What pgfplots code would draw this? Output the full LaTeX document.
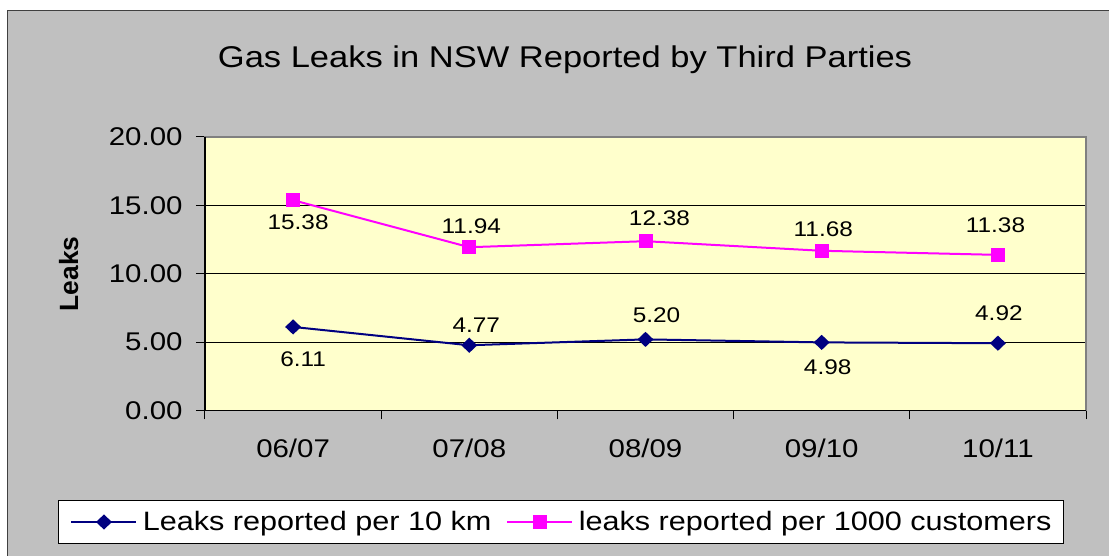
\documentclass[border=0pt]{standalone}
\usepackage{pgfplots}
\pgfplotsset{compat=1.18}
\usepackage{pgfplotstable}
\usepackage{fontspec}
\setmainfont{Liberation Sans}[FakeStretch=1.15]
\newfontfamily\ylabfont{Liberation Sans}
\definecolor{chartgray}{HTML}{C0C0C0}
\definecolor{plotyellow}{HTML}{FFFFCC}
\definecolor{navyline}{HTML}{000080}
\definecolor{magline}{HTML}{FF00FF}
\definecolor{plotborder}{HTML}{808080}

\pgfplotstableread{
x y lab dx dy
0 6.11 6.11 5 -16
1 4.77 4.77 3.5 10
2 5.20 5.20 5.5 12
3 4.98 4.98 3 -12.5
4 4.92 4.92 0.5 15
}\leaksKm
\pgfplotstableread{
x y lab dx dy
0 15.38 15.38 2.5 -11
1 11.94 11.94 1 10.35
2 12.38 12.38 7 11.35
3 11.68 11.68 0.8 10.75
4 11.38 11.38 -1.2 14.75
}\leaksCust

\begin{document}
\begin{tikzpicture}
\path[use as bounding box] (0,0) rectangle (554.5pt,278pt);
\fill[white] (0,0) rectangle (554.5pt,278pt);
\clip (0,0) rectangle (554.5pt,278pt);
\filldraw[fill=chartgray, draw=black!75, line width=0.6pt] (3.75pt,-5pt) rectangle (560pt,272.65pt);
\begin{axis}[
  at={(102.5pt,72.75pt)}, anchor=south west,
  scale only axis, width=440.5pt, height=136.75pt,
  xmin=-0.5, xmax=4.5, ymin=0, ymax=20,
  xtick={-0.5,0.5,1.5,2.5,3.5,4.5}, x tick label as interval,
  xticklabels={06/07,07/08,08/09,09/10,10/11},
  ytick={0,5,10,15,20},
  /pgf/number format/fixed, /pgf/number format/fixed zerofill,
  /pgf/number format/precision=2, /pgf/number format/assume math mode=true,
  yticklabel style={xshift=-3.2pt},
  xticklabel style={yshift=-6pt},
  tick label style={font=\fontsize{12.8}{15}\selectfont, text=black},
  tick align=outside, tick pos=left,
  major tick length=4.5pt,
  tick style={black, line width=0.5pt},
  axis line style={plotborder, line width=0.6pt},
  axis background/.style={fill=plotyellow},
  ymajorgrids, major grid style={black, line width=0.5pt},
  clip=false,
  legend style={at={(0.4041,-0.4077)}, anchor=center, legend columns=2,
    draw=black, line width=0.5pt, fill=white,
    font=\fontsize{13.3}{15}\selectfont,
    inner xsep=6pt, inner ysep=5.4pt,
    nodes={inner sep=0pt},
    /tikz/every odd column/.append style={column sep=2.7pt},
    /tikz/every even column/.append style={column sep=7.5pt}},
  legend image code/.code={\draw[mark repeat=2, mark phase=2, #1] plot coordinates {(0pt,0pt) (16.25pt,0pt) (32.5pt,0pt)};},
  legend cell align=left,
]
\addplot[navyline, line width=1pt, mark=diamond*, mark size=3.1pt,
  mark options={fill=navyline, solid, xscale=1.4},
  nodes near coords, point meta=explicit symbolic,
  visualization depends on={\thisrow{dx}\as\ldx},
  visualization depends on={\thisrow{dy}\as\ldy},
  every node near coord/.append style={anchor=center, xshift=\ldx pt, yshift=\ldy pt,
     font=\fontsize{10.6}{12}\selectfont, text=black}]
  table[x=x, y=y, meta=lab] {\leaksKm};
\addlegendentry{Leaks reported per 10 km}
\addplot[magline, line width=1pt, mark=square*, mark size=3pt,
  mark options={fill=magline, solid},
  nodes near coords, point meta=explicit symbolic,
  visualization depends on={\thisrow{dx}\as\ldx},
  visualization depends on={\thisrow{dy}\as\ldy},
  every node near coord/.append style={anchor=center, xshift=\ldx pt, yshift=\ldy pt,
     font=\fontsize{10.6}{12}\selectfont, text=black}]
  table[x=x, y=y, meta=lab] {\leaksCust};
\addlegendentry{leaks reported per 1000 customers}
\draw[black, line width=0.6pt] (rel axis cs:0,1) -- (rel axis cs:0,0) -- (rel axis cs:1,0);
\end{axis}
\node[anchor=base, font=\fontsize{15}{18}\selectfont] at (282.5pt,244pt) {Gas Leaks in NSW Reported by Third Parties};
\node[rotate=90, font=\ylabfont\bfseries\fontsize{13.2}{15}\selectfont] at (34.4pt,141pt) {Leaks};
\end{tikzpicture}
\end{document}
